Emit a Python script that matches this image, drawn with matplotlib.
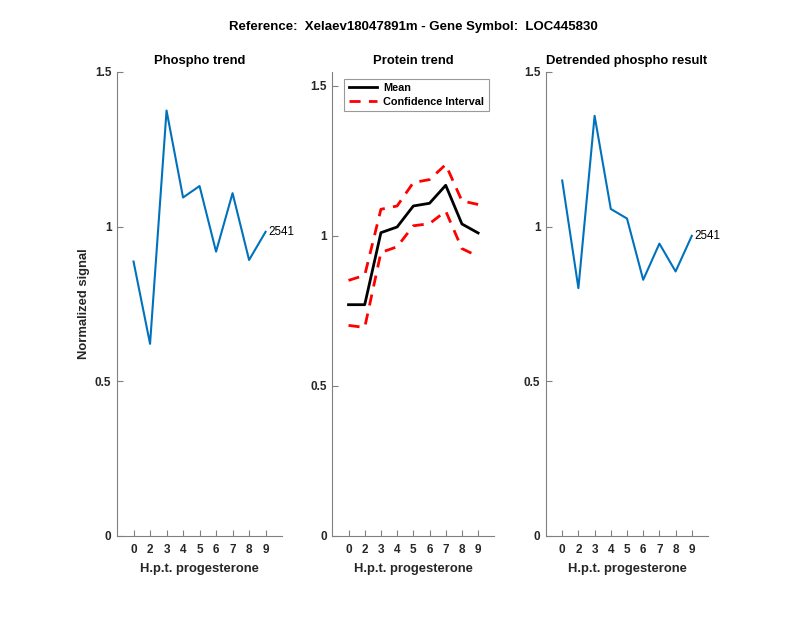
import matplotlib
matplotlib.use('Agg')
import matplotlib.pyplot as plt

plt.rcParams['font.family'] = ['Liberation Sans', 'DejaVu Sans']

# x positions and their tick labels (hours post progesterone)
pos = [1, 2, 3, 4, 5, 6, 7, 8, 9]
hpt = ['0', '2', '3', '4', '5', '6', '7', '8', '9']

phospho = [0.887, 0.621, 1.375, 1.094, 1.131, 0.919, 1.108, 0.892, 0.983]
prot_mean = [0.771, 0.771, 1.011, 1.030, 1.100, 1.109, 1.169, 1.040, 1.010]
prot_upper = [0.852, 0.869, 1.089, 1.100, 1.178, 1.188, 1.238, 1.117, 1.105]
prot_lower = [0.702, 0.695, 0.945, 0.964, 1.034, 1.041, 1.083, 0.958, 0.932]
detrended = [1.149, 0.801, 1.358, 1.057, 1.026, 0.828, 0.945, 0.855, 0.970]
peptide_id = '2541'

blue = '#0072BD'
gris = '#808080'
ciemny = '#262626'

fig = plt.figure(figsize=(8, 6.18), dpi=100)
bottom, height = 0.1327, 0.751
ax1 = fig.add_axes([0.1463, bottom, 0.2063, height])
ax2 = fig.add_axes([0.4154, bottom, 0.2025, height])
ax3 = fig.add_axes([0.6825, bottom, 0.2025, height])

def styl(ax, ymax):
	ax.set_xlim(0, 10)
	ax.set_ylim(0, ymax)
	ax.set_xticks(pos)
	ax.set_xticklabels(hpt)
	ax.set_yticks([0, 0.5, 1, 1.5])
	ax.set_yticklabels(['0', '0.5', '1', '1.5'])
	for s in ['top', 'right']:
		ax.spines[s].set_visible(False)
	for s in ['left', 'bottom']:
		ax.spines[s].set_color(gris)
		ax.spines[s].set_linewidth(0.8)
	ax.tick_params(direction='in', length=4, width=0.8, color=gris,
		labelsize=8.5, labelcolor=ciemny, pad=4)
	ax.tick_params(axis='x', pad=6)
	for t in ax.get_xticklabels() + ax.get_yticklabels():
		t.set_fontweight('bold')
	ax.set_xlabel('H.p.t. progesterone', fontsize=9.4, fontweight='bold', color=ciemny,
		labelpad=5)

# phospho trend
ax1.plot(pos, phospho, color=blue, lw=1.5)
ax1.text(9.15, phospho[-1], peptide_id, fontsize=8.4, va='center', ha='left')
styl(ax1, 1.5)
ax1.set_title('Phospho trend', fontsize=9.4, fontweight='bold')
ax1.set_ylabel('Normalized signal', fontsize=9.4, fontweight='bold', color=ciemny)
ax1.yaxis.set_label_coords(-0.165, 0.5)

# protein trend
ax2.plot(pos, prot_mean, color='black', lw=2, label='Mean')
ax2.plot(pos, prot_upper, color='red', lw=2, ls=(0, (4, 3)), label='Confidence Interval')
ax2.plot(pos, prot_lower, color='red', lw=2, ls=(0, (4, 3)))
styl(ax2, 1.547)
ax2.set_title('Protein trend', fontsize=9.4, fontweight='bold')
leg = ax2.legend(loc='upper left', bbox_to_anchor=(0.075, 0.985), borderaxespad=0,
	fontsize=7.8, frameon=True, fancybox=False, edgecolor=gris, handlelength=2.6,
	borderpad=0.4, labelspacing=0.35, handletextpad=0.6)
leg.get_frame().set_linewidth(0.8)
for t in leg.get_texts():
	t.set_fontweight('bold')

# detrended
ax3.plot(pos, detrended, color=blue, lw=1.5)
ax3.text(9.15, detrended[-1], peptide_id, fontsize=8.4, va='center', ha='left')
styl(ax3, 1.5)
ax3.set_title('Detrended phospho result', fontsize=9.4, fontweight='bold')

srodek = 0.4154 + 0.2025 / 2
fig.text(srodek, 0.956, 'Reference:  Xelaev18047891m - Gene Symbol:  LOC445830',
	ha='center', va='center', fontsize=9.5, fontweight='bold')

fig.savefig('out.png', dpi=100)
